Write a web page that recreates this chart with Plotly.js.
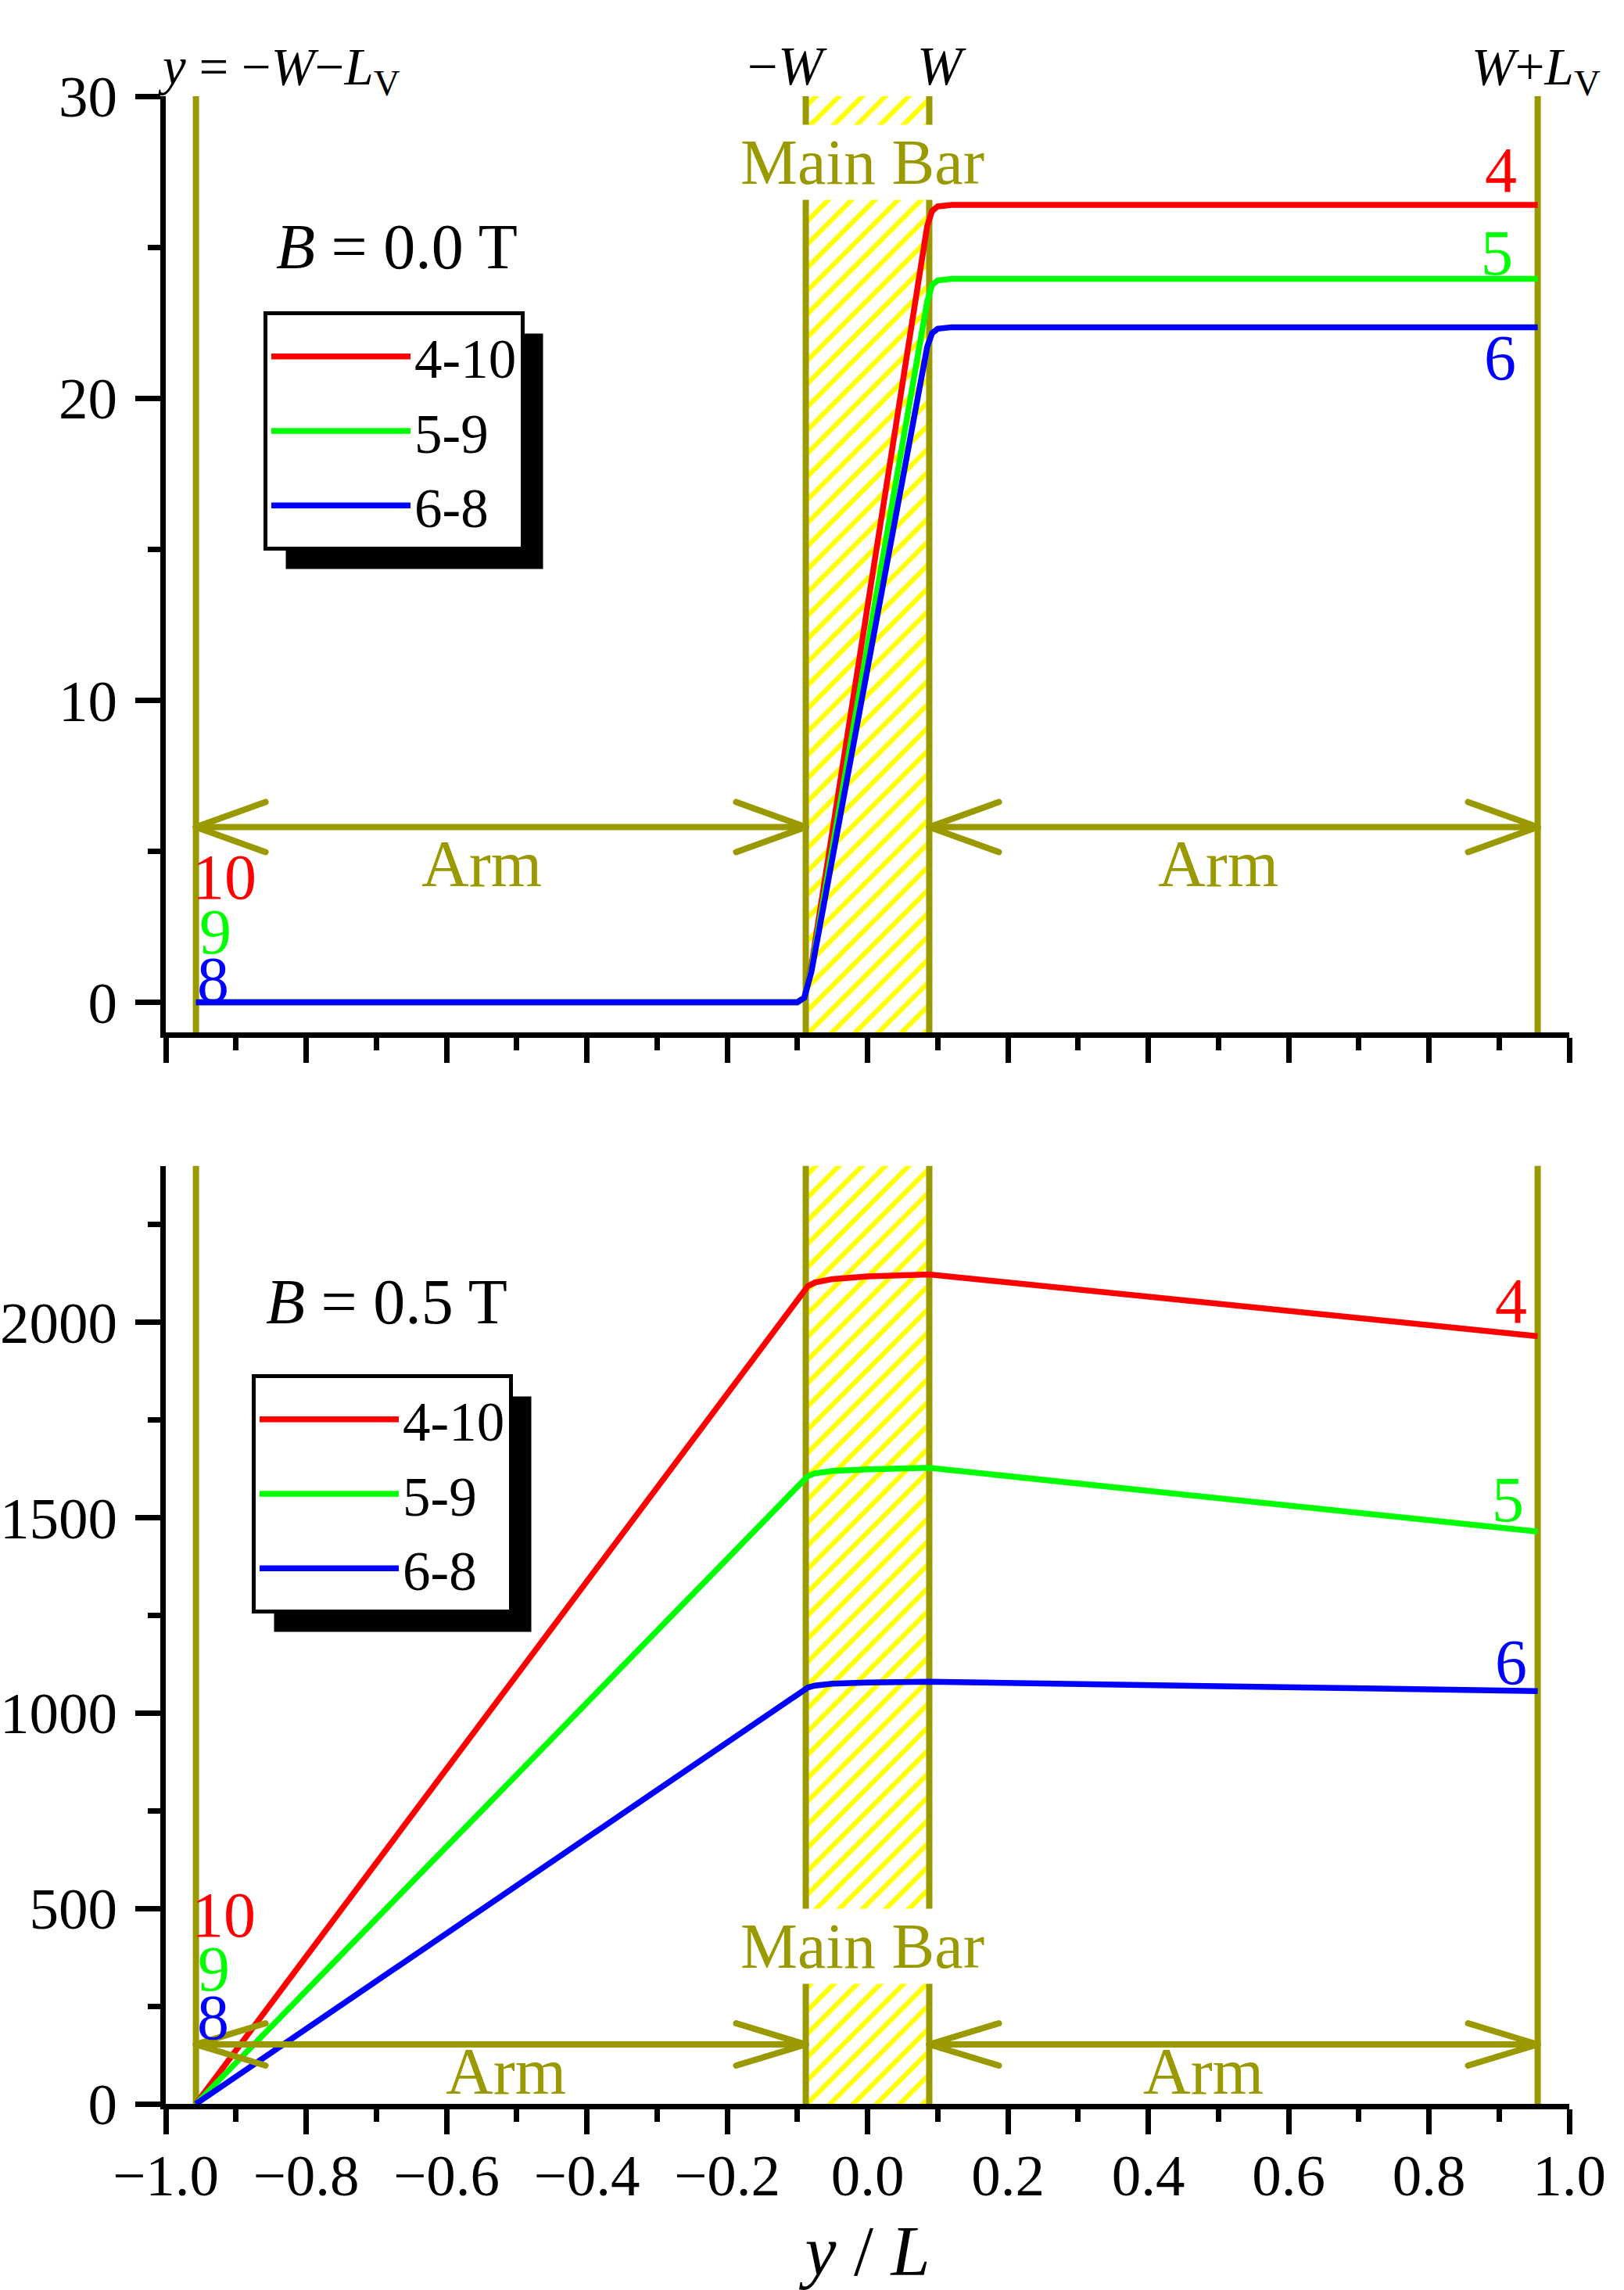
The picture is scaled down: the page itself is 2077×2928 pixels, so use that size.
<!DOCTYPE html>
<html><head><meta charset="utf-8">
<script src="https://cdn.plot.ly/plotly-3.0.1.min.js"></script>
<style>
html,body{margin:0;padding:0;background:#fff;}
#chart{width:2077px;height:2928px;}
.shapelayer path{stroke-linecap:round;}
</style></head><body><div id="chart"></div>
<script>
// ---------------- data ----------------
const seriesNames  = ['4-10', '5-9', '6-8'];
const seriesColors = ['#ff0000', '#00ff00', '#0000ff'];
const endLabelsRight = ['4', '5', '6'];
const endLabelsLeft  = ['10', '9', '8'];

// region boundaries (y/L): -W-Lv, -W, W, W+Lv
const bounds = [-0.957, -0.088, 0.088, 0.955];

// B = 0.0 T panel
const xTop = [-0.957, -0.5, -0.100, -0.090, -0.080, 0.0, 0.075, 0.085, 0.092, 0.100, 0.120, 0.5, 0.955];
const redTop   = [0, 0, 0, 0.15, 1.2, 13.1, 24.2, 25.7, 26.2, 26.35, 26.4, 26.4, 26.4];
const greenTop = [0, 0, 0, 0.15, 1.1, 11.8, 21.9, 23.2, 23.75, 23.9, 23.95, 23.95, 23.95];
const blueTop  = [0, 0, 0, 0.15, 1.0, 11.05, 20.5, 21.7, 22.15, 22.3, 22.35, 22.35, 22.35];

// B = 0.5 T panel
const xBot = [-0.957, -0.095, -0.085, -0.075, -0.05, 0.0, 0.05, 0.088, 0.955];
const redBot   = [0, 2072, 2092, 2101, 2110, 2117, 2121, 2122, 1964];
const greenBot = [0, 1589, 1606, 1613, 1619, 1623, 1626, 1627, 1464];
const blueBot  = [0, 1053, 1065, 1070, 1075, 1078, 1080, 1080, 1056];

const xRange = [-1, 1];
const yRangeTop = [-1, 30];
const yRangeBot = [0, 2400];
const arrowYTop = 5.8;
const arrowYBot = 152;

// ---------------- style / geometry ----------------
const FONT = 'Liberation Serif, Times New Roman, serif';
const OLIVE = '#9a9a00';
const FIGW = 2077, FIGH = 2928;
const ML = 212, MR = 70, MT = 123, MB = 238;
const PW = FIGW - ML - MR, PH = FIGH - MT - MB;
const px2x = px => (px - ML) / PW;
const py2y = py => (FIGH - MB - py) / PH;
const topDomain = [py2y(1320), 1];
const botDomain = [0, py2y(1490.5)];

const topSeries = [redTop, greenTop, blueTop];
const botSeries = [redBot, greenBot, blueBot];

const traces = [];
function hatch(xa, ya, yr) {
  traces.push({type:'bar', x:[(bounds[1]+bounds[2])/2], width:[bounds[2]-bounds[1]], base:[yr[0]], y:[yr[1]-yr[0]],
    xaxis:xa, yaxis:ya, showlegend:false, hoverinfo:'skip',
    marker:{color:'rgba(255,255,255,0)', line:{width:0},
      pattern:{shape:'/', fgcolor:'#ffff00', bgcolor:'rgba(255,255,255,0)', size:21, solidity:0.3}}});
}
function boundaryLines(xa, ya, yr) {
  const bx = [], by = [];
  bounds.forEach(b => { bx.push(b, b, null); by.push(yr[0], yr[1], null); });
  traces.push({type:'scatter', mode:'lines', x:bx, y:by, xaxis:xa, yaxis:ya, showlegend:false,
    hoverinfo:'skip', line:{color:OLIVE, width:8}});
}
hatch('x','y',yRangeTop); boundaryLines('x','y',yRangeTop);
hatch('x2','y2',yRangeBot); boundaryLines('x2','y2',yRangeBot);
topSeries.forEach((ys,i) => traces.push({type:'scatter', mode:'lines', x:xTop, y:ys, xaxis:'x', yaxis:'y',
  name:seriesNames[i], legend:'legend', line:{color:seriesColors[i], width:7.5}}));
botSeries.forEach((ys,i) => traces.push({type:'scatter', mode:'lines', x:xBot, y:ys, xaxis:'x2', yaxis:'y2',
  name:seriesNames[i], legend:'legend2', line:{color:seriesColors[i], width:7.5}}));

// ---------------- shapes: arrows ----------------
const shapes = [];
function arrow(xa, ya, x0, x1, y, hl, hh) {
  const L = (a,b,c,d) => shapes.push({type:'line', xref:xa, yref:ya, x0:a, y0:b, x1:c, y1:d, layer:'above',
    line:{color:OLIVE, width:8}});
  L(x0, y, x1, y);
  L(x0, y, x0+hl, y+hh); L(x0, y, x0+hl, y-hh);
  L(x1, y, x1-hl, y+hh); L(x1, y, x1-hl, y-hh);
}
const hlen = 89 / (PW / (xRange[1]-xRange[0]));
const pxPerTop = (PH*(topDomain[1]-topDomain[0])) / (yRangeTop[1]-yRangeTop[0]);
const pxPerBot = (PH*(botDomain[1]-botDomain[0])) / (yRangeBot[1]-yRangeBot[0]);
arrow('x','y', bounds[0], bounds[1], arrowYTop, hlen, 32/pxPerTop);
arrow('x','y', bounds[2], bounds[3], arrowYTop, hlen, 32/pxPerTop);
arrow('x2','y2', bounds[0], bounds[1], arrowYBot, hlen, 27/pxPerBot);
arrow('x2','y2', bounds[2], bounds[3], arrowYBot, hlen, 27/pxPerBot);

// ---------------- annotations ----------------
const ann = [];
function txt(text, cx, cy, size, color, extra) {
  ann.push(Object.assign({xref:'paper', yref:'paper', x:px2x(cx), y:py2y(cy), xanchor:'center', yanchor:'middle',
    showarrow:false, text:text, font:{family:FONT, size:size, color:color}}, extra||{}));
}
txt('<i>y</i> = \u2212<i>W</i>\u2212<i>L</i><sub>V</sub>', 357, 90, 67, '#000');
txt('\u2212<i>W</i>', 1007, 85, 69, '#000');
txt('<i>W</i>', 1204, 85, 69, '#000');
txt('<i>W</i>+<i>L</i><sub>V</sub>', 1964, 90, 67, '#000');
txt('Main Bar', 1103, 208, 82, OLIVE, {bgcolor:'#fff', borderpad:2});
txt('Main Bar', 1103, 2488, 82, OLIVE, {bgcolor:'#fff', borderpad:2});
txt('<i>B</i> = 0.0 T', 507, 315, 82, '#000');
txt('<i>B</i> = 0.5 T', 494, 1664, 82, '#000');
txt('Arm', 616, 1104, 84, OLIVE);
txt('Arm', 1558, 1104, 84, OLIVE);
txt('Arm', 647, 2648, 84, OLIVE);
txt('Arm', 1539, 2648, 84, OLIVE);
const rTop = [[1919,217],[1914,323],[1918,458]];
const lTop = [[287,1121],[275,1192],[272,1252]];
const rBot = [[1932,1663],[1928,1917],[1932,2125]];
const lBot = [[286,2448],[273,2517],[272,2579]];
[0,1,2].forEach(i => {
  txt(endLabelsRight[i], rTop[i][0], rTop[i][1], 82, seriesColors[i]);
  txt(endLabelsLeft[i],  lTop[i][0], lTop[i][1], 82, seriesColors[i]);
  txt(endLabelsRight[i], rBot[i][0], rBot[i][1], 82, seriesColors[i]);
  txt(endLabelsLeft[i],  lBot[i][0], lBot[i][1], 82, seriesColors[i]);
});

// ---------------- axes ----------------
const axBase = {showline:true, linecolor:'#000', linewidth:7, ticks:'outside', ticklen:32, tickwidth:7,
  tickcolor:'#000', showgrid:false, zeroline:false, tickfont:{family:FONT, size:75, color:'#000'}};
const minorX = {ticks:'outside', ticklen:16, tickwidth:7, tickcolor:'#000', dtick:0.1, tick0:-1, showgrid:false};
const legendBase = {xanchor:'left', yanchor:'top', bgcolor:'#fff', bordercolor:'#000', borderwidth:5,
  font:{family:FONT, size:71, color:'#000'}, itemwidth:178, tracegroupgap:0};
const layout = {
  width:FIGW, height:FIGH, margin:{l:ML, r:MR, t:MT, b:MB, pad:0},
  paper_bgcolor:'#fff', plot_bgcolor:'#fff', showlegend:true, barmode:'overlay',
  font:{family:FONT, color:'#000'},
  xaxis: Object.assign({}, axBase, {domain:[0,1], anchor:'y', range:xRange, tick0:-1, dtick:0.2,
    showticklabels:false, minor:minorX}),
  yaxis: Object.assign({}, axBase, {domain:topDomain, anchor:'x', range:yRangeTop, tick0:0, dtick:10, ticklabelstandoff:8,
    minor:{ticks:'outside', ticklen:16, tickwidth:7, tickcolor:'#000', dtick:5, tick0:0, showgrid:false}}),
  xaxis2: Object.assign({}, axBase, {domain:[0,1], anchor:'y2', range:xRange, tick0:-1, dtick:0.2, tickformat:'.1f',
    ticklabelstandoff:-12, minor:minorX,
    title:{text:'<i>y</i> / <i>L</i>', font:{family:FONT, size:90, color:'#000'}, standoff:32}}),
  yaxis2: Object.assign({}, axBase, {domain:botDomain, anchor:'x2', range:yRangeBot, tick0:0, dtick:500, ticklabelstandoff:8,
    minor:{ticks:'outside', ticklen:16, tickwidth:7, tickcolor:'#000', dtick:250, tick0:0, showgrid:false}}),
  legend: Object.assign({}, legendBase, {x:px2x(337), y:py2y(398)}),
  legend2: Object.assign({}, legendBase, {x:px2x(322), y:py2y(1757)}),
  shapes: shapes,
  annotations: ann
};
Plotly.newPlot('chart', traces, layout, {staticPlot:true, displayModeBar:false}).then(gd => {
  // drop shadows behind the two legend boxes
  const extra = [];
  document.querySelectorAll('g.legend rect.bg, g.legend2 rect.bg').forEach(bg => {
    const r = bg.getBoundingClientRect();
    const off = 26;
    extra.push({type:'rect', xref:'paper', yref:'paper', layer:'above',
      x0:px2x(r.left+off), x1:px2x(r.right+off), y0:py2y(r.bottom+off), y1:py2y(r.top+off),
      fillcolor:'#000', line:{width:0}});
  });
  return Plotly.relayout(gd, {shapes: shapes.concat(extra)});
});
</script></body></html>
